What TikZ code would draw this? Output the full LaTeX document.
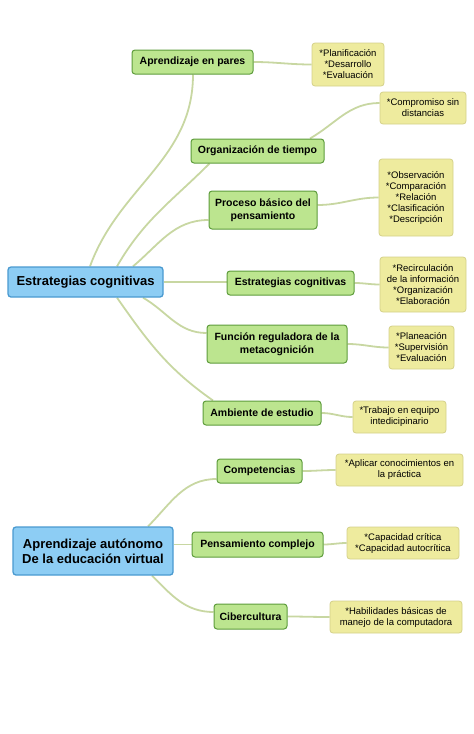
\documentclass[tikz,border=0pt]{standalone}
\usepackage{fontspec}
\setmainfont{Liberation Sans}
\usepackage{xcolor}
\usetikzlibrary{backgrounds}
\definecolor{azul}{HTML}{8DCDF4}
\definecolor{azulborde}{HTML}{4A9AD0}
\definecolor{verde}{HTML}{BCE58F}
\definecolor{verdeborde}{HTML}{5E9C3C}
\definecolor{amarillo}{HTML}{EEEB9E}
\definecolor{amarilloborde}{HTML}{D4D08A}
\definecolor{enlace}{HTML}{C8D7A2}

\begin{document}
\begin{tikzpicture}[x=1pt,y=-1pt,
  raiz/.style={draw=azulborde,fill=azul,line width=1.3pt,rounded corners=3pt,align=center,inner sep=0pt,font=\bfseries\fontsize{13}{15}\selectfont},
  rama/.style={draw=verdeborde,fill=verde,line width=1pt,rounded corners=3pt,align=center,inner sep=0pt,font=\bfseries\fontsize{10.5}{13}\selectfont},
  hoja/.style={draw=amarilloborde,fill=amarillo,line width=0.8pt,rounded corners=3pt,align=center,inner sep=0pt,font=\fontsize{9.5}{11}\selectfont},
  linea/.style={draw=enlace,line width=1.8pt}]
  \useasboundingbox (0,0) rectangle (474,734);
  % primer mapa
  \node[raiz,minimum width=155pt,minimum height=30pt] (r1) at (85.5,282) {Estrategias cognitivas};
  \node[rama,minimum width=121pt,minimum height=24pt] (g1) at (192.5,62) {Aprendizaje en pares};
  \node[rama,minimum width=133pt,minimum height=24pt] (g2) at (257.5,151) {Organización de tiempo};
  \node[rama,minimum width=108pt,minimum height=38pt] (g3) at (263,210) {Proceso básico del\\pensamiento};
  \node[rama,minimum width=127pt,minimum height=24pt] (g4) at (290.5,283) {Estrategias cognitivas};
  \node[rama,minimum width=140pt,minimum height=38pt] (g5) at (277,344) {Función reguladora de la\\metacognición};
  \node[rama,minimum width=118pt,minimum height=24pt] (g6) at (262,413) {Ambiente de estudio};
  \node[hoja,minimum width=72pt,minimum height=43pt] (y1) at (348,64.5) {*Planificación\\*Desarrollo\\*Evaluación};
  \node[hoja,minimum width=86pt,minimum height=32pt] (y2) at (423,108) {*Compromiso sin\\distancias};
  \node[hoja,minimum width=74pt,minimum height=77pt] (y3) at (416,197.5) {*Observación\\*Comparación\\*Relación\\*Clasificación\\*Descripción};
  \node[hoja,minimum width=86pt,minimum height=55pt] (y4) at (423,284.5) {*Recirculación\\de la información\\*Organización\\*Elaboración};
  \node[hoja,minimum width=65pt,minimum height=43pt] (y5) at (421.5,347.5) {*Planeación\\*Supervisión\\*Evaluación};
  \node[hoja,minimum width=93pt,minimum height=32pt] (y6) at (399.5,417) {*Trabajo en equipo\\intedicipinario};
  % segundo mapa
  \node[raiz,minimum width=160pt,minimum height=48pt] (r2) at (93,551) {Aprendizaje autónomo\\De la educación virtual};
  \node[rama,minimum width=85pt,minimum height=24pt] (g7) at (259.5,471) {Competencias};
  \node[rama,minimum width=131pt,minimum height=25pt] (g8) at (257.5,544.5) {Pensamiento complejo};
  \node[rama,minimum width=73pt,minimum height=25pt] (g9) at (250.5,616.5) {Cibercultura};
  \node[hoja,minimum width=127pt,minimum height=32pt] (y7) at (399.5,470) {*Aplicar conocimientos en\\la práctica};
  \node[hoja,minimum width=112pt,minimum height=32pt] (y8) at (403,543) {*Capacidad crítica\\*Capacidad autocrítica};
  \node[hoja,minimum width=132pt,minimum height=32pt] (y9) at (396,617) {*Habilidades básicas de\\manejo de la computadora};
  \begin{scope}[on background layer]
    \draw[linea] ([xshift=4.5pt]r1.north) to[out=70,in=-90] ([xshift=0.5pt]g1.south);
    \draw[linea] ([xshift=31.5pt]r1.north) to[out=60,in=-135] ([xshift=-48pt]g2.south);
    \draw[linea] ([xshift=47.5pt]r1.north) to[out=40,in=180] ([yshift=-10pt]g3.west);
    \draw[linea] (r1.east) -- (r1.east -| g4.west);
    \draw[linea] ([xshift=57.5pt]r1.south) to[out=-30,in=180] ([yshift=11pt]g5.west);
    \draw[linea] ([xshift=31.5pt]r1.south) to[out=-55,in=145] ([xshift=-49pt]g6.north);
    \draw[linea] ([xshift=55pt]r2.north) to[out=45,in=180] ([yshift=-8pt]g7.west);
    \draw[linea] (r2.east |- g8.west) -- (g8.west);
    \draw[linea] ([xshift=59pt]r2.south) to[out=-45,in=180] ([yshift=4.5pt]g9.west);
    \draw[linea] ([xshift=52.5pt]g2.north) to[out=30,in=180] ([yshift=5pt]y2.west);
    \draw[linea] ([yshift=5pt]g3.east) to[out=0,in=180] (y3.west);
    \foreach \a/\b in {g1/y1,g4/y4,g5/y5,g6/y6,g7/y7,g8/y8,g9/y9}
      \draw[linea] (\a.east) to[out=0,in=180] (\b.west);
  \end{scope}
\end{tikzpicture}
\end{document}
